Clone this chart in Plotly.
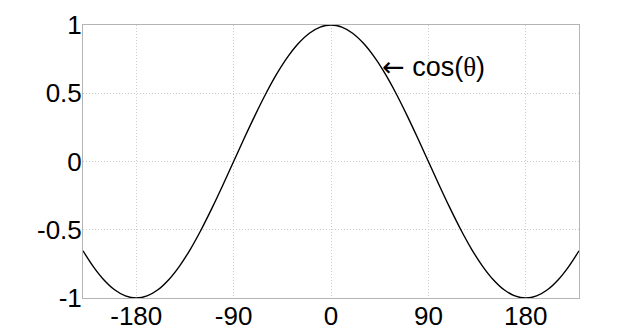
import plotly.graph_objects as go

theta_deg = [-229.2, -220, -210, -200, -190, -180, -170, -160, -150, -140, -130, -120,
             -110, -100, -90, -80, -70, -60, -50, -40, -30, -20, -10, 0,
             10, 20, 30, 40, 50, 60, 70, 80, 90, 100, 110, 120,
             130, 140, 150, 160, 170, 180, 190, 200, 210, 220, 229.2]
cos_vals = [-0.654, -0.766, -0.866, -0.940, -0.985, -1.0, -0.985, -0.940, -0.866, -0.766, -0.643, -0.5,
            -0.342, -0.174, 0.0, 0.174, 0.342, 0.5, 0.643, 0.766, 0.866, 0.940, 0.985, 1.0,
            0.985, 0.940, 0.866, 0.766, 0.643, 0.5, 0.342, 0.174, 0.0, -0.174, -0.342, -0.5,
            -0.643, -0.766, -0.866, -0.940, -0.985, -1.0, -0.985, -0.940, -0.866, -0.766, -0.654]

x_ticks = [-180, -90, 0, 90, 180]
x_labels = ["-180", "-90", "0", "90", "180"]
y_ticks = [-1, -0.5, 0, 0.5, 1]
y_labels = ["-1", "-0.5", "0", "0.5", "1"]

label_x = 46
label_y = 0.695

FONT = "Liberation Sans, Arial, sans-serif"

fig = go.Figure()
fig.add_trace(go.Scatter(x=theta_deg, y=cos_vals, mode="lines",
                         line=dict(color="black", width=1.4, shape="spline"),
                         hoverinfo="skip", showlegend=False))

axis_common = dict(showline=True, linecolor="#b4b4b4", linewidth=1, mirror=True,
                   showgrid=True, gridcolor="#cccccc", griddash="1px,2px", gridwidth=1,
                   zeroline=False, ticks="", automargin=False,
                   tickfont=dict(family=FONT, size=26, color="black"))

fig.update_xaxes(range=[-229.2, 229.2], tickmode="array", tickvals=x_ticks, ticktext=x_labels,
                 ticklabelstandoff=-5, **axis_common)
fig.update_yaxes(range=[-1, 1], tickmode="array", tickvals=y_ticks, ticktext=y_labels,
                 ticklabelstandoff=-5, **axis_common)

fig.add_annotation(x=label_x, y=label_y, xref="x", yref="y", xanchor="left", yanchor="middle",
                   showarrow=False, borderpad=0,
                   text='<span style="font-family:\'DejaVu Sans\'">←</span>&nbsp;cos(<span style="font-family:\'Liberation Serif\', \'Times New Roman\', serif">θ</span>)',
                   font=dict(family=FONT, size=27, color="black"))

fig.update_layout(width=640, height=335, margin=dict(l=83, r=61, t=25, b=37),
                  plot_bgcolor="white", paper_bgcolor="white")

fig.write_html("out.html")
